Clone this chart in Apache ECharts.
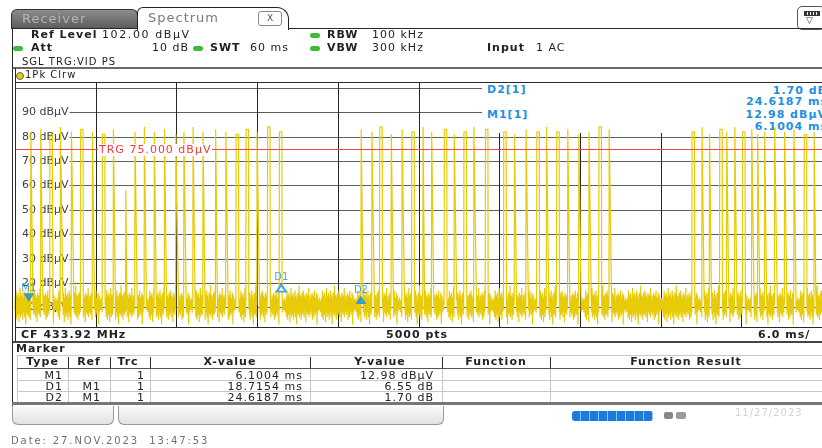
<!DOCTYPE html>
<html>
<head>
<meta charset="utf-8">
<title>Spectrum 433.92 MHz zero span</title>
<script src="https://cdn.jsdelivr.net/npm/echarts@6/dist/echarts.min.js"></script>
<style>
  body { margin:0; width:822px; height:448px; overflow:hidden; background:#fff;
         font-family:"DejaVu Sans", sans-serif; font-size:11px; color:#222; position:relative; }
  #chart { position:absolute; left:0; top:0; width:822px; height:448px; }
  .t { position:absolute; white-space:pre; line-height:12px; letter-spacing:1px; }
  .b { font-weight:bold; }
  .blue { color:#1f8fe5; }
  .ln { position:absolute; background:#2a2a2a; }
  .lg { position:absolute; background:#c8c8c8; }
  .dot { position:absolute; width:10px; height:5px; border-radius:3px; background:#3cbc3c; }
  .c { text-align:center; }
</style>
</head>
<body>
<!-- marker readout: sits under the trace -->
<div class="t b blue" style="left:487px;top:84px">D2[1]</div>
<div class="t b blue" style="right:-5px;top:85px">1.70 dB</div>
<div class="t b blue" style="right:-6px;top:96px">24.6187 ms</div>
<div class="t b blue" style="left:487px;top:109px">M1[1]</div>
<div class="t b blue" style="right:-5px;top:109px">12.98 dBµV</div>
<div class="t b blue" style="right:-6px;top:121px">6.1004 ms</div>

<div id="chart"></div>

<!-- tabs -->
<div style="position:absolute;left:11px;top:9px;width:125px;height:19px;border:1px solid #333;border-bottom:none;border-radius:6px 6px 0 0;background:linear-gradient(#8c8c8c,#5a5a5a);"></div>
<div class="t" style="left:22px;top:12px;font-size:13px;line-height:14px;color:#b4b4b4;">Receiver</div>
<div style="position:absolute;left:137px;top:7px;width:150px;height:22px;border:1px solid #222;border-bottom:none;border-radius:6px 12px 0 0;background:#fff;"></div>
<div class="t" style="left:148px;top:11px;font-size:13px;line-height:14px;color:#7a7a7a;">Spectrum</div>
<div class="t c" style="left:258px;top:11px;width:22px;height:13px;border:1px solid #888;border-radius:3px;font-size:9px;line-height:13px;letter-spacing:0;color:#555;">X</div>
<div style="position:absolute;left:797px;top:6px;width:26px;height:22px;border:1px solid #555;border-radius:5px;background:#fff;"></div>
<div style="position:absolute;left:804px;top:11px;width:14px;height:3px;background:repeating-linear-gradient(90deg,#333 0 2px,#fff 2px 3px);border:1px solid #333;"></div>
<div class="t" style="left:806px;top:15px;font-size:9px;line-height:10px;letter-spacing:0;color:#333;">▽</div>
<div class="ln" style="left:288px;top:28px;width:534px;height:1px;"></div>
<div class="ln" style="left:11px;top:28px;width:126px;height:1px;"></div>
<div class="ln" style="left:12px;top:29px;width:1px;height:377px;"></div>

<!-- instrument settings -->
<div class="t b" style="left:31px;top:29px;">Ref Level</div>
<div class="t" style="left:102px;top:29px;letter-spacing:1.6px;">102.00 dBµV</div>
<div class="dot" style="left:310px;top:33px;"></div>
<div class="t b" style="left:327px;top:29px;">RBW</div>
<div class="t" style="left:372px;top:29px;">100 kHz</div>
<div class="dot" style="left:13px;top:46px;"></div>
<div class="t b" style="left:31px;top:42px;">Att</div>
<div class="t" style="left:152px;top:42px;">10 dB</div>
<div class="dot" style="left:193px;top:46px;"></div>
<div class="t b" style="left:210px;top:42px;">SWT</div>
<div class="t" style="left:250px;top:42px;">60 ms</div>
<div class="dot" style="left:310px;top:46px;"></div>
<div class="t b" style="left:327px;top:42px;">VBW</div>
<div class="t" style="left:372px;top:42px;">300 kHz</div>
<div class="t b" style="left:487px;top:42px;">Input</div>
<div class="t" style="left:536px;top:42px;">1 AC</div>
<div class="t" style="left:22px;top:56px;font-size:10px;">SGL TRG:VID PS</div>

<!-- plot frame -->
<div class="ln" style="left:13px;top:67px;width:809px;height:2px;background:#6a6a6a;"></div>
<div style="position:absolute;left:16px;top:72px;width:6px;height:6px;border-radius:50%;background:#e8cf00;border:1px solid #666;"></div>
<div class="t" style="left:25px;top:69px;font-size:10px;">1Pk Clrw</div>
<div class="ln" style="left:15px;top:82px;width:807px;height:1px;"></div>
<div class="ln" style="left:15px;top:68px;width:1px;height:274px;"></div>
<div class="ln" style="left:15px;top:327px;width:807px;height:1px;"></div>
<div class="t b" style="left:21px;top:329px;">CF 433.92 MHz</div>
<div class="t b" style="left:386px;top:329px;">5000 pts</div>
<div class="t b" style="left:758px;top:329px;">6.0 ms/</div>
<div class="ln" style="left:13px;top:341px;width:809px;height:2px;background:#444;"></div>

<!-- marker table -->
<div class="t" style="left:16px;top:343px;font-weight:600;">Marker</div>
<div class="lg" style="left:17px;top:355px;width:805px;height:1px;"></div>
<div class="lg" style="left:17px;top:355px;width:1px;height:48px;"></div>
<div class="t b c" style="left:17px;top:356px;width:51px;">Type</div>
<div class="t b c" style="left:68px;top:356px;width:42px;">Ref</div>
<div class="t b c" style="left:110px;top:356px;width:36px;">Trc</div>
<div class="t b c" style="left:150px;top:356px;width:160px;">X-value</div>
<div class="t b c" style="left:310px;top:356px;width:140px;">Y-value</div>
<div class="t b c" style="left:442px;top:356px;width:108px;">Function</div>
<div class="t b c" style="left:550px;top:356px;width:272px;">Function Result</div>
<div class="ln" style="left:68px;top:357px;width:1px;height:11px;"></div>
<div class="ln" style="left:110px;top:357px;width:1px;height:11px;"></div>
<div class="ln" style="left:150px;top:357px;width:1px;height:11px;"></div>
<div class="ln" style="left:310px;top:357px;width:1px;height:11px;"></div>
<div class="ln" style="left:442px;top:357px;width:1px;height:11px;"></div>
<div class="ln" style="left:550px;top:357px;width:1px;height:11px;"></div>
<div class="ln" style="left:17px;top:368px;width:805px;height:1px;background:#555;"></div>
<div class="lg" style="left:68px;top:369px;width:1px;height:33px;"></div>
<div class="lg" style="left:110px;top:369px;width:1px;height:33px;"></div>
<div class="lg" style="left:150px;top:369px;width:1px;height:33px;"></div>
<div class="lg" style="left:310px;top:369px;width:1px;height:33px;"></div>
<div class="lg" style="left:442px;top:369px;width:1px;height:33px;"></div>
<div class="lg" style="left:550px;top:369px;width:1px;height:33px;"></div>
<div class="lg" style="left:17px;top:380px;width:805px;height:1px;"></div>
<div class="lg" style="left:17px;top:391px;width:805px;height:1px;"></div>

<div class="t" style="right:759px;top:370px;">M1</div>
<div class="t" style="right:677px;top:370px;">1</div>
<div class="t" style="right:519px;top:370px;">6.1004 ms</div>
<div class="t" style="right:388px;top:370px;">12.98 dBµV</div>
<div class="t" style="right:759px;top:381px;">D1</div>
<div class="t" style="right:721px;top:381px;">M1</div>
<div class="t" style="right:677px;top:381px;">1</div>
<div class="t" style="right:519px;top:381px;">18.7154 ms</div>
<div class="t" style="right:388px;top:381px;">6.55 dB</div>
<div class="t" style="right:759px;top:392px;">D2</div>
<div class="t" style="right:721px;top:392px;">M1</div>
<div class="t" style="right:677px;top:392px;">1</div>
<div class="t" style="right:519px;top:392px;">24.6187 ms</div>
<div class="t" style="right:388px;top:392px;">1.70 dB</div>
<div class="ln" style="left:12px;top:402px;width:810px;height:3px;background:#777;"></div>

<!-- status bar -->
<div style="position:absolute;left:12px;top:406px;width:100px;height:18px;border:1px solid #999;border-top:none;border-radius:0 0 6px 6px;background:linear-gradient(#fafafa,#e2e2e2);"></div>
<div style="position:absolute;left:118px;top:406px;width:324px;height:18px;border:1px solid #999;border-top:none;border-radius:0 0 6px 6px;background:linear-gradient(#fafafa,#e2e2e2);"></div>
<div style="position:absolute;left:572px;top:411px;width:81px;height:10px;border-radius:3px;background:repeating-linear-gradient(90deg,#1b7bdc 0 8px,#8fc0ee 8px 9px);"></div>
<div style="position:absolute;left:664px;top:412px;width:9px;height:7px;background:#888;border-radius:2px;"></div>
<div style="position:absolute;left:676px;top:412px;width:10px;height:7px;background:#999;border-radius:2px;"></div>
<div class="t" style="left:735px;top:407px;font-size:10px;color:#d2d2d2;">11/27/2023</div>

<div class="t" style="left:11px;top:435px;font-size:10px;color:#707070;letter-spacing:1.9px;">Date: 27.NOV.2023  13:47:53</div>

<!-- above the trace -->
<div class="t" style="left:98px;top:144px;color:#f03a3a;background:#fff;padding:0 1px;">TRG 75.000 dBµV</div>

<script>
// ---- values ----
var xRange = [0, 60];                 // ms, 6 ms / div
var yRange = [2, 102];                // dBµV, ref level 102
var yTicks = [90, 80, 70, 60, 50, 40, 30, 20, 10];
var xTicks = [6, 12, 18, 24, 30, 36, 42, 48, 54];
var trigLevel = 75;

// OOK bursts: on-intervals of the carrier (ms) and their peak level (dBµV)
var pulseStart = [
  1.18, 1.92, 2.59, 3.38, 4.19, 4.88, 5.76, 6.50, 7.32, 8.24, 8.91, 9.61, 10.35,
  11.12, 11.95, 12.56, 13.23, 13.97, 14.91, 15.67, 16.44, 17.18, 18.00, 18.77, 19.66,
  25.74, 26.53, 27.12, 27.97, 28.77, 29.49, 30.34, 30.97, 31.91, 32.65, 33.37, 34.12,
  34.98, 36.34, 37.14, 37.99, 38.80, 39.51, 40.28, 41.09, 41.91, 42.68, 43.42, 44.18,
  50.33, 51.07, 51.63, 52.40, 52.92, 53.51, 54.10, 54.77, 55.21, 55.73, 56.47, 57.21,
  57.91, 58.68, 59.42
];
var pulseEnd = [
  1.33, 2.07, 2.81, 3.55, 4.36, 5.06, 5.91, 6.69, 7.46, 8.30, 9.07, 9.76, 10.50,
  11.27, 12.12, 12.71, 13.38, 14.12, 15.04, 15.84, 16.63, 17.37, 18.16, 18.96, 19.84,
  25.87, 26.68, 27.31, 28.12, 28.94, 29.69, 30.45, 31.12, 32.10, 32.82, 33.56, 34.29,
  35.16, 36.53, 37.29, 38.17, 38.99, 39.69, 40.47, 41.24, 42.09, 42.83, 43.61, 44.35,
  50.52, 51.22, 51.76, 52.59, 53.07, 53.66, 54.29, 54.95, 55.36, 55.88, 56.65, 57.39,
  58.06, 58.87, 59.53
];
var pulseTop = [
  82, 83, 81, 84, 82, 83, 82, 81, 83, 58, 82, 84, 82,
  83, 81, 82, 84, 82, 83, 82, 81, 83, 82, 84, 82,
  83, 82, 84, 81, 83, 82, 84, 82, 83, 81, 82, 84,
  83, 82, 81, 83, 82, 84, 82, 83, 81, 82, 84, 83,
  82, 84, 81, 83, 82, 84, 82, 83, 81, 82, 84, 82,
  83, 81, 82
];
// noise floor samples (dBµV) between the pulses
var noiseFloor = [
  9, 14, 6, 12, 17, 8, 11, 5, 15, 10, 13, 7, 16, 9, 12, 4, 14, 11, 8, 18,
  10, 6, 13, 15, 9, 12, 7, 16, 11, 5, 14, 10, 8, 13, 17, 9, 6, 12, 15, 10,
  3, 13, 11, 8, 16, 12, 7, 14, 9, 19, 10, 6, 13, 11, 15, 8, 12, 5, 14, 10,
  16, 9, 7, 13, 11, 17, 8, 12, 6, 15, 10, 14, 9, 11, 4, 13, 16, 8, 12, 10,
  15, 7, 11, 14, 9, 18, 6, 12, 10, 13, 8, 15, 11, 7, 14, 9, 12, 16, 10, 5,
  13, 9, 15, 11, 6, 12, 17, 8, 10, 14, 7, 11, 13, 9, 16, 10, 3, 12, 15, 8,
  11, 13, 10, 12, 9, 14, 11, 10, 13, 8, 12, 11
];

var markerNames = ['M1', 'D1', 'D2'];
var markerTime = [1.03, 19.80, 25.72];
var markerLevel = [12.98, 19.53, 14.68];

// ---- build the sweep trace ----
var step = 0.02;
var trace = [];
var n = 0;
for (var i = 0; i <= 3000; i++) {
  var t = Math.round(i * step * 100) / 100;
  var v = null;
  for (var k = 0; k < pulseStart.length; k++) {
    if (t >= pulseStart[k] && t <= pulseEnd[k]) { v = pulseTop[k]; break; }
  }
  if (v === null) { v = noiseFloor[n % noiseFloor.length]; n++; }
  trace.push([t, v]);
}

var markerLook = {
  M1: { symbol: 'triangle', rotate: 180, dy: -3, dist: 0 },
  D1: { symbol: 'emptyTriangle', rotate: 0, dy: 4, dist: 1 },
  D2: { symbol: 'triangle', rotate: 0, dy: 4, dist: 1 }
};

var chart = echarts.init(document.getElementById('chart'));

chart.setOption({
  animation: false,
  grid: { left: 15, top: 83, width: 812, height: 244, show: false },
  xAxis: { type: 'value', min: xRange[0], max: xRange[1], show: false },
  yAxis: { type: 'value', min: yRange[0], max: yRange[1], show: false },
  series: [
    {
      // horizontal graticule with the level labels
      type: 'custom', z: 1, silent: true, clip: false,
      data: [100].concat(yTicks).map(function (v) { return [0, v]; }),
      renderItem: function (params, api) {
        var v = api.value(1);
        var a = api.coord([v === 100 ? 0 : 4.06, v]);
        var b = api.coord([v >= 90 ? 34.73 : 60, v]);
        var y = Math.round(a[1]) + 0.5;
        var kids = [{ type: 'line', shape: { x1: a[0], y1: y, x2: b[0], y2: y },
                      style: { stroke: '#5e5e5e', lineWidth: 1 } }];
        if (v !== 100) {
          kids.push({ type: 'text', x: a[0] - 1, y: y,
                      style: { text: v + ' dBµV', align: 'right', verticalAlign: 'middle',
                               font: '11px "DejaVu Sans"', fill: '#404040' } });
        }
        return { type: 'group', children: kids };
      }
    },
    {
      // vertical graticule; right part is hidden behind the marker readout
      type: 'custom', z: 1, silent: true, clip: false,
      data: xTicks.map(function (t) { return [t, 2]; }),
      renderItem: function (params, api) {
        var t = api.value(0);
        var top = t >= 54 ? 11 : (t >= 36 ? 81.5 : 102);
        var a = api.coord([t, top]);
        var b = api.coord([t, 2]);
        var x = Math.round(a[0]) + 0.5;
        return { type: 'line', shape: { x1: x, y1: a[1], x2: x, y2: b[1] },
                 style: { stroke: '#262626', lineWidth: 1 } };
      }
    },
    {
      name: '1Pk Clrw', type: 'line', z: 3,
      data: trace,
      showSymbol: false, silent: true,
      lineStyle: { color: '#e8cb08', width: 1.2 },
      markLine: {
        silent: true, symbol: 'none',
        label: { show: false },
        lineStyle: { color: '#f04848', width: 1, type: 'solid' },
        data: [{ yAxis: trigLevel }]
      }
    },
    {
      type: 'scatter', z: 5, silent: true,
      data: markerNames.map(function (name, i) {
        var look = markerLook[name];
        return {
          name: name,
          value: [markerTime[i], markerLevel[i]],
          symbol: look.symbol,
          symbolRotate: look.rotate,
          symbolOffset: [0, look.dy],
          label: { distance: look.dist }
        };
      }),
      symbolSize: [9, 7],
      itemStyle: { color: '#1f8fe5', borderColor: '#1f8fe5' },
      label: {
        show: true, position: 'top',
        formatter: function (p) { return p.name; },
        color: '#1f8fe5', fontSize: 10, fontFamily: 'DejaVu Sans'
      }
    }
  ]
});
</script>
</body>
</html>
